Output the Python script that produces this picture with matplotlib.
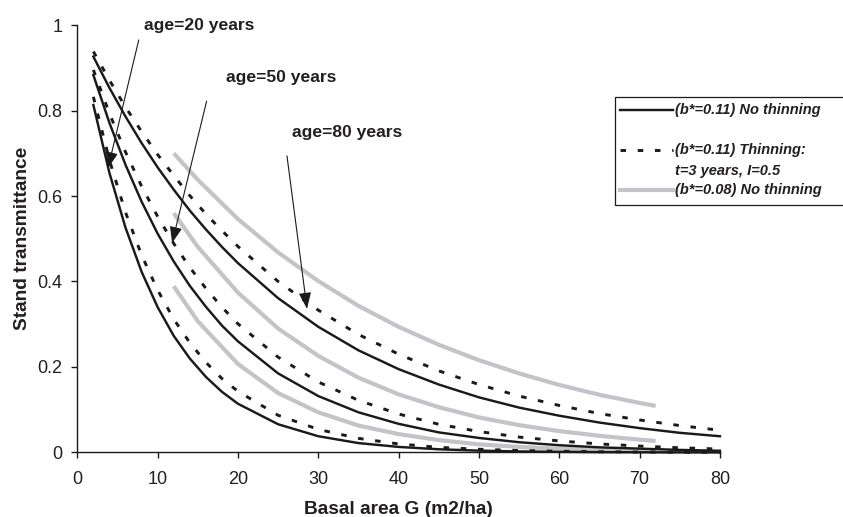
import matplotlib
matplotlib.use("Agg")
import matplotlib.pyplot as plt
from matplotlib.lines import Line2D
from matplotlib.patches import Rectangle

plt.rcParams['font.family'] = ['Liberation Sans', 'DejaVu Sans']

# Basal area grid (m2/ha)
G_full = [2, 4, 6, 8, 10, 12, 14, 16, 18, 20, 25, 30, 35, 40, 45, 50, 55, 60, 65, 70, 75, 80]
G_gray = [12, 15, 20, 25, 30, 35, 40, 45, 50, 55, 60, 65, 70, 72]

# (b*=0.11) No thinning  -- ages 80, 50, 20
solid_80 = [0.926, 0.853, 0.786, 0.724, 0.667, 0.615, 0.566, 0.522, 0.481, 0.443, 0.361, 0.294,
            0.239, 0.195, 0.159, 0.129, 0.105, 0.086, 0.070, 0.057, 0.046, 0.038]
solid_50 = [0.883, 0.771, 0.673, 0.587, 0.512, 0.447, 0.390, 0.341, 0.297, 0.260, 0.185, 0.132,
            0.094, 0.067, 0.047, 0.034, 0.024, 0.017, 0.012, 0.009, 0.006, 0.004]
solid_20 = [0.813, 0.654, 0.526, 0.423, 0.340, 0.273, 0.220, 0.177, 0.142, 0.114, 0.066, 0.038,
            0.022, 0.013, 0.0075, 0.0043, 0.0025, 0.0015, 0.0008, 0.0005, 0.0003, 0.0002]

# (b*=0.11) Thinning: t=3 years, I=0.5
dash_80 = [0.938, 0.871, 0.808, 0.751, 0.697, 0.648, 0.601, 0.558, 0.519, 0.482, 0.400, 0.333,
           0.276, 0.230, 0.191, 0.159, 0.132, 0.110, 0.091, 0.076, 0.063, 0.052]
dash_50 = [0.895, 0.793, 0.703, 0.623, 0.552, 0.489, 0.433, 0.384, 0.340, 0.301, 0.223, 0.165,
           0.122, 0.090, 0.066, 0.049, 0.036, 0.027, 0.020, 0.015, 0.011, 0.008]
dash_20 = [0.832, 0.684, 0.562, 0.462, 0.380, 0.312, 0.257, 0.211, 0.173, 0.143, 0.087, 0.054,
           0.033, 0.020, 0.012, 0.0075, 0.0046, 0.0028, 0.0017, 0.0011, 0.0006, 0.0004]

# (b*=0.08) No thinning
gray_80 = [0.700, 0.638, 0.546, 0.468, 0.401, 0.343, 0.294, 0.252, 0.216, 0.185, 0.158, 0.135, 0.116, 0.109]
gray_50 = [0.560, 0.481, 0.374, 0.290, 0.226, 0.175, 0.136, 0.106, 0.082, 0.064, 0.050, 0.039, 0.030, 0.027]
gray_20 = [0.389, 0.307, 0.207, 0.139, 0.094, 0.063, 0.043, 0.029, 0.019, 0.013, 0.0088, 0.0059, 0.0040, 0.0034]

x_ticks = [0, 10, 20, 30, 40, 50, 60, 70, 80]
y_ticks = [0, 0.2, 0.4, 0.6, 0.8, 1.0]
y_ticklabels = ["0", "0.2", "0.4", "0.6", "0.8", "1"]

legend_labels = ["(b*=0.11) No thinning", "(b*=0.11) Thinning:", "t=3 years, I=0.5", "(b*=0.08) No thinning"]
age_labels = ["age=20 years", "age=50 years", "age=80 years"]

BLACK = "#1a1a1a"
GRAY = "#c2c4c8"
TXT = "#231f20"

fig = plt.figure(figsize=(8.43, 5.17), dpi=100)
ax = fig.add_axes([0.0917, 0.1248, 0.854 - 0.0917, 0.9516 - 0.1248])

lw_solid = 1.75
dash_pattern = (1.9, 4.0)

for g in (gray_80, gray_50, gray_20):
    ax.plot(G_gray, g, color=GRAY, lw=3.0, solid_capstyle='butt', zorder=2)
for d in (dash_80, dash_50, dash_20):
    ax.plot(G_full, d, color=BLACK, lw=2.1, dashes=dash_pattern, zorder=3, clip_on=False)
for s in (solid_80, solid_50, solid_20):
    ax.plot(G_full, s, color=BLACK, lw=lw_solid, zorder=4, clip_on=False)

ax.set_xlim(0, 80)
ax.set_ylim(0, 1)
ax.set_xticks(x_ticks)
ax.set_yticks(y_ticks)
ax.set_yticklabels(y_ticklabels)
for sp in ("top", "right"):
    ax.spines[sp].set_visible(False)
for sp in ("left", "bottom"):
    ax.spines[sp].set_linewidth(1.0)
    ax.spines[sp].set_color(BLACK)
ax.tick_params(direction='out', length=4.5, width=1.0, labelsize=13, colors=BLACK,
               labelcolor=TXT, pad=6)
ax.tick_params(axis='x', pad=9)
ax.set_xlabel("Basal area G (m2/ha)", fontsize=13.8, fontweight='bold', color=TXT, labelpad=9)
ax.set_ylabel("Stand transmittance", fontsize=13.8, fontweight='bold', color=TXT, labelpad=5)

# Age annotations (text centre, arrow start, arrow tip)
age_text_pos = [(15.2, 1.0), (25.4, 0.878), (33.6, 0.748)]
age_arrow_start = [(7.65, 0.965), (16.1, 0.822), (26.1, 0.694)]
age_arrow_tip = [(3.82, 0.665), (11.8, 0.490), (28.6, 0.336)]
for lab, tp, st, tip in zip(age_labels, age_text_pos, age_arrow_start, age_arrow_tip):
    ax.text(tp[0], tp[1], lab, fontsize=12.6, fontweight='bold', color=TXT,
            ha='center', va='center', clip_on=False, zorder=6)
    ax.annotate('', xy=tip, xytext=st,
                arrowprops=dict(arrowstyle='-|>,head_length=1.0,head_width=0.38',
                                lw=0.8, color=BLACK, shrinkA=0, shrinkB=0),
                zorder=6, annotation_clip=False)

# Legend drawn in figure pixel space
W, H = 843.0, 517.0
def fx(px):
    return px / W
def fy(py):
    return 1 - py / H

fig.patches.append(Rectangle((fx(615), fy(205)), fx(860) - fx(615), fy(97) - fy(205),
                             transform=fig.transFigure, fill=False, edgecolor=BLACK, lw=0.9))
handle_y = [110, 150, 190]
styles = [dict(color=BLACK, lw=lw_solid), dict(color=BLACK, lw=2.1, dashes=dash_pattern),
          dict(color=GRAY, lw=3.0)]
for hy, st in zip(handle_y, styles):
    fig.lines.append(Line2D([fx(620), fx(673)], [fy(hy), fy(hy)], transform=fig.transFigure, **st))
text_y = [110, 150, 171.5, 190]
for lab, ty in zip(legend_labels, text_y):
    fig.text(fx(675), fy(ty), lab, fontsize=10.5, fontweight='bold', style='italic',
             color=TXT, ha='left', va='center')

fig.savefig("out.png", dpi=100)
